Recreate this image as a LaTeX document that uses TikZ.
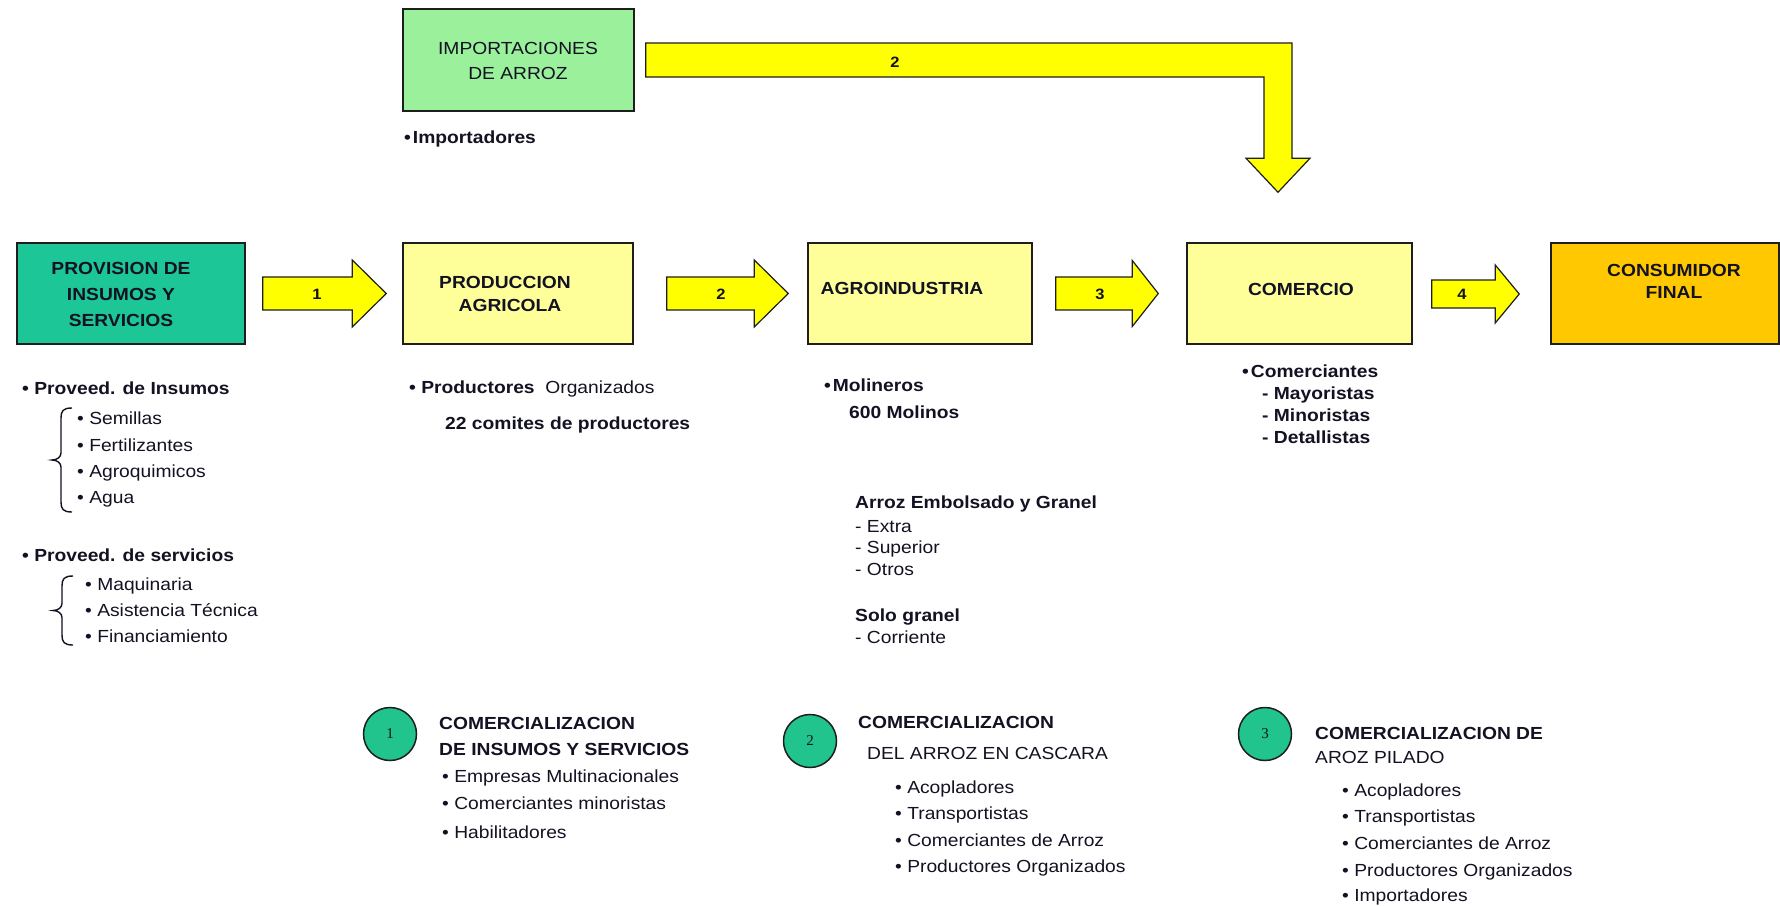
\documentclass[tikz,border=0pt]{standalone}
\usepackage{fontspec}
\setmainfont{Liberation Sans}[FakeStretch=1.1]
\newfontfamily\numfont{Liberation Serif}
\usetikzlibrary{calc}
\definecolor{ink}{RGB}{18,18,34}
\definecolor{boxline}{RGB}{30,30,30}
\definecolor{tealbox}{RGB}{28,198,150}
\definecolor{circfill}{RGB}{32,196,140}
\definecolor{lightgreen}{RGB}{155,240,155}
\definecolor{lightyellow}{RGB}{255,255,153}
\definecolor{goldbox}{RGB}{255,200,0}
\definecolor{arrowyellow}{RGB}{255,255,0}
\newcommand\fsz{\fontsize{17.5}{21}\selectfont}
\newcommand\blockarr[5]{\draw[blk] ($(#1)+(0,-#4)$) -- ($(#2)+(-#3,-#4)$) -- ($(#2)+(-#3,-#5)$) -- (#2) -- ($(#2)+(-#3,#5)$) -- ($(#2)+(-#3,#4)$) -- ($(#1)+(0,#4)$) -- cycle;}
% curly brace opening to the right: #1 x of hooks, #2 top y, #3 bottom y
\newcommand\lbrc[3]{\draw[brc] (#1,#2) .. controls (#1-9,#2) and (#1-11,#2+3) .. (#1-11,#2+10) -- (#1-11,{(#2+#3)/2-7}) .. controls (#1-11,{(#2+#3)/2-3}) and (#1-15,{(#2+#3)/2}) .. (#1-20,{(#2+#3)/2}) .. controls (#1-15,{(#2+#3)/2}) and (#1-11,{(#2+#3)/2+3}) .. (#1-11,{(#2+#3)/2+7}) -- (#1-11,#3-10) .. controls (#1-11,#3-3) and (#1-9,#3) .. (#1,#3);}
\begin{document}
\begin{tikzpicture}[x=1pt,y=-1pt,
  box/.style={draw=boxline, line width=1.5pt, inner sep=0pt},
  ttl/.style={anchor=base, inner sep=0pt, text=ink, font=\fsz\bfseries},
  ttlr/.style={anchor=base, inner sep=0pt, text=ink, font=\fsz},
  txt/.style={anchor=base west, inner sep=0pt, text=ink, font=\fsz},
  btxt/.style={anchor=base west, inner sep=0pt, text=ink, font=\fsz\bfseries},
  blk/.style={fill=arrowyellow, draw=boxline, line width=1.2pt, line join=miter},
  alabel/.style={inner sep=0pt, text=ink, font=\fontsize{15}{18}\selectfont\bfseries},
  circ/.style={circle, draw=boxline, line width=1.5pt, fill=circfill, minimum size=53pt, inner sep=0pt, text=ink, font=\numfont\fontsize{15}{18}\selectfont},
  brc/.style={draw=ink, line width=1.4pt}
]
\useasboundingbox (0,0) rectangle (1780,905);
\fill[white] (0,0) rectangle (1780,905);

% main boxes
\node[box, fill=tealbox, minimum width=228pt, minimum height=101pt] (prov) at (131,293.5) {};
\node[box, fill=lightyellow, minimum width=230pt, minimum height=101pt] (prod) at (518,293.5) {};
\node[box, fill=lightyellow, minimum width=224pt, minimum height=101pt] (agro) at (920,293.5) {};
\node[box, fill=lightyellow, minimum width=225pt, minimum height=101pt] (com) at (1299.5,293.5) {};
\node[box, fill=goldbox, minimum width=228pt, minimum height=101pt] (cons) at (1665,293.5) {};
\node[box, fill=lightgreen, minimum width=231pt, minimum height=102pt] (imp) at (518.5,60) {};

% box titles
\node[ttl] (provt1) at (121,274) {PROVISION DE};
\node[ttl] (provt2) at (121,300) {INSUMOS Y};
\node[ttl] (provt3) at (121,326) {SERVICIOS};
\node[ttl] (prodt1) at (505,288) {PRODUCCION};
\node[ttl] (prodt2) at (510,311) {AGRICOLA};
\node[ttl] (agrot) at (902,294) {AGROINDUSTRIA};
\node[ttl] (comt) at (1301,295) {COMERCIO};
\node[ttl] (const1) at (1674,276) {CONSUMIDOR};
\node[ttl] (const2) at (1674,298) {FINAL};
\node[ttlr] (impt1) at (518,54) {IMPORTACIONES};
\node[ttlr] (impt2) at (518,79) {DE ARROZ};

% block arrows between boxes
\coordinate (a1s) at ($(prov.east)+(17,0)$);
\coordinate (a1t) at ($(prod.west)+(-16,0)$);
\blockarr{a1s}{a1t}{34}{16.5}{33.5}
\coordinate (a2s) at ($(prod.east)+(33,0)$);
\coordinate (a2t) at ($(agro.west)+(-19,0)$);
\blockarr{a2s}{a2t}{34}{16.5}{33.5}
\coordinate (a3s) at ($(agro.east)+(23,0)$);
\coordinate (a3t) at ($(com.west)+(-28,0)$);
\blockarr{a3s}{a3t}{26}{16.5}{33}
\coordinate (a4s) at ($(com.east)+(19,0.5)$);
\coordinate (a4t) at ($(cons.west)+(-31,0.5)$);
\blockarr{a4s}{a4t}{24}{14}{29}
\node[alabel] (l1) at (317,294) {1};
\node[alabel] (l2) at (721,294) {2};
\node[alabel] (l3) at (1100,294) {3};
\node[alabel] (l4) at (1462,294) {4};

% top bent arrow
\coordinate (t0) at ($(imp.east)+(11,0)$);
\coordinate (ttip) at ($(com.north)+(-21.5,-50)$);
\coordinate (tA) at ($(t0)+(0,-17)$);
\coordinate (tB) at ($(t0)+(0,17)$);
\coordinate (sR) at ($(ttip)+(14,-34)$);
\coordinate (sL) at ($(ttip)+(-14,-34)$);
\draw[blk] (tA) -- (tA -| sR) -- (sR) -- ($(ttip)+(32,-34)$) -- (ttip) -- ($(ttip)+(-32,-34)$) -- (sL) -- (tB -| sL) -- (tB) -- cycle;
\node[alabel] (l5) at (895,62) {2};

\node[btxt] (impo) at (404,143) {•\kern2pt Importadores};

% left column
\node[btxt] (pi) at (22,394) {• Proveed. de Insumos};
\node[txt] (pi1) at (77,424) {• Semillas};
\node[txt] (pi2) at (77,451) {• Fertilizantes};
\node[txt] (pi3) at (77,477) {• Agroquimicos};
\node[txt] (pi4) at (77,503) {• Agua};
\lbrc{72}{408}{512}
\node[btxt] (ps) at (22,561) {• Proveed. de servicios};
\node[txt] (ps1) at (85,590) {• Maquinaria};
\node[txt] (ps2) at (85,616) {• Asistencia Técnica};
\node[txt] (ps3) at (85,642) {• Financiamiento};
\lbrc{73}{576}{645}

% middle columns
\node[txt] (po) at (409,393) {\textbf{• Productores}\ \ Organizados};
\node[btxt] (pc) at (445,429) {22 comites de productores};
\node[btxt] (mo) at (824,391) {•\kern2pt Molineros};
\node[btxt] (mo2) at (849,418) {600 Molinos};
\node[btxt] (ae) at (855,508) {Arroz Embolsado y Granel};
\node[txt] (ae1) at (855,532) {- Extra};
\node[txt] (ae2) at (855,553) {- Superior};
\node[txt] (ae3) at (855,575) {- Otros};
\node[btxt] (sg) at (855,621) {Solo granel};
\node[txt] (sg1) at (855,643) {- Corriente};

% right column
\node[btxt] (cm) at (1242,377) {•\kern2pt Comerciantes};
\node[btxt] (cm1) at (1262,399) {- Mayoristas};
\node[btxt] (cm2) at (1262,421) {- Minoristas};
\node[btxt] (cm3) at (1262,443) {- Detallistas};

% bottom legend
\node[circ] (c1) at (390,734) {1};
\node[btxt] (c1t1) at (439,729) {COMERCIALIZACION};
\node[btxt] (c1t2) at (439,755) {DE INSUMOS Y SERVICIOS};
\node[txt] (c1a) at (442,782) {• Empresas Multinacionales};
\node[txt] (c1b) at (442,809) {• Comerciantes minoristas};
\node[txt] (c1c) at (442,838) {• Habilitadores};

\node[circ] (c2) at (810,741) {2};
\node[btxt] (c2t1) at (858,728) {COMERCIALIZACION};
\node[txt] (c2t2) at (867,759) {DEL ARROZ EN CASCARA};
\node[txt] (c2a) at (895,793) {• Acopladores};
\node[txt] (c2b) at (895,819) {• Transportistas};
\node[txt] (c2c) at (895,846) {• Comerciantes de Arroz};
\node[txt] (c2d) at (895,872) {• Productores Organizados};

\node[circ] (c3) at (1265,734) {3};
\node[btxt] (c3t1) at (1315,739) {COMERCIALIZACION DE};
\node[txt] (c3t2) at (1315,763) {AROZ PILADO};
\node[txt] (c3a) at (1342,796) {• Acopladores};
\node[txt] (c3b) at (1342,822) {• Transportistas};
\node[txt] (c3c) at (1342,849) {• Comerciantes de Arroz};
\node[txt] (c3d) at (1342,876) {• Productores Organizados};
\node[txt] (c3e) at (1342,901) {• Importadores};
\end{tikzpicture}
\end{document}
